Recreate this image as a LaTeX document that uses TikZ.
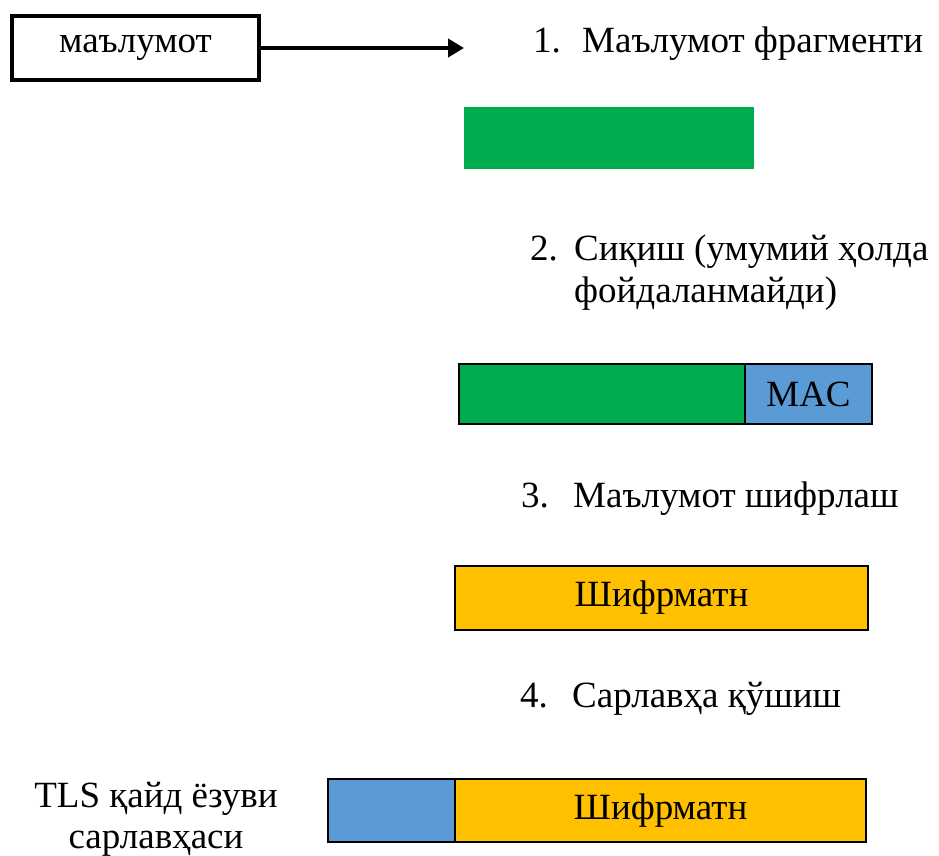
\documentclass[tikz,border=0pt]{standalone}
\usepackage{fontspec}
\setmainfont{Liberation Serif}
\usepackage{tikz}
\usetikzlibrary{arrows.meta}
\definecolor{fraggreen}{HTML}{00AD4E}
\definecolor{macblue}{HTML}{5B9BD5}
\definecolor{ctorange}{HTML}{FFC000}

\begin{document}
\begin{tikzpicture}[x=1pt,y=-1pt,font=\fontsize{37}{42}\selectfont,
  field/.style={draw=black,line width=1.6pt,inner sep=0pt,outer sep=0pt},
  lbl/.style={anchor=base west,inner sep=0pt}]
 \useasboundingbox (0,0) rectangle (939,855);
 % input box and arrow
 \node[draw,line width=4pt,minimum width=247pt,minimum height=64pt,inner sep=0pt] (data) at (135.5,48) {маълумот};
 \coordinate (arrowend) at (464,48);
 \draw[line width=4pt,-{Triangle[length=16pt,width=18pt]}] (data.east) -- (arrowend);
 % step captions
 \foreach \n/\nx/\tx/\by/\t in {1/533/582/52/Маълумот фрагменти,2/530/574/260/Сиқиш (умумий ҳолда,3/521/573/507/Маълумот шифрлаш,4/520/572/707/Сарлавҳа қўшиш}{
  \node[lbl] (num\n) at (\nx,\by) {\n.};
  \node[lbl] (step\n) at (\tx,\by) {\t};
 }
 \node[lbl] (step2b) at (574,302) {фойдаланмайди)};
 % 1. fragment
 \node[inner sep=0pt,fill=fraggreen,minimum width=290pt,minimum height=62pt] (frag) at (609,138) {};
 % 2. fragment + MAC
 \node[field,fill=fraggreen,minimum width=286pt,minimum height=60pt] (frag2) at (602,394) {};
 \node[field,fill=macblue,minimum width=127pt,minimum height=60pt,anchor=west] (mac) at (frag2.east) {MAC};
 % 3. ciphertext
 \node[field,fill=ctorange,minimum width=413pt,minimum height=64pt] (ct) at (661.5,598) {Шифрматн};
 % 4. header + ciphertext
 \node[field,fill=macblue,minimum width=127pt,minimum height=63pt] (hdr) at (391.5,810.5) {};
 \node[field,fill=ctorange,minimum width=411pt,minimum height=63pt,anchor=west] (ct2) at (hdr.east) {Шифрматн};
 \node[anchor=base,inner sep=0pt] (hdrlbl) at (156,807) {TLS қайд ёзуви};
 \node[anchor=base,inner sep=0pt] (hdrlblb) at (156,848) {сарлавҳаси};
\end{tikzpicture}
\end{document}
